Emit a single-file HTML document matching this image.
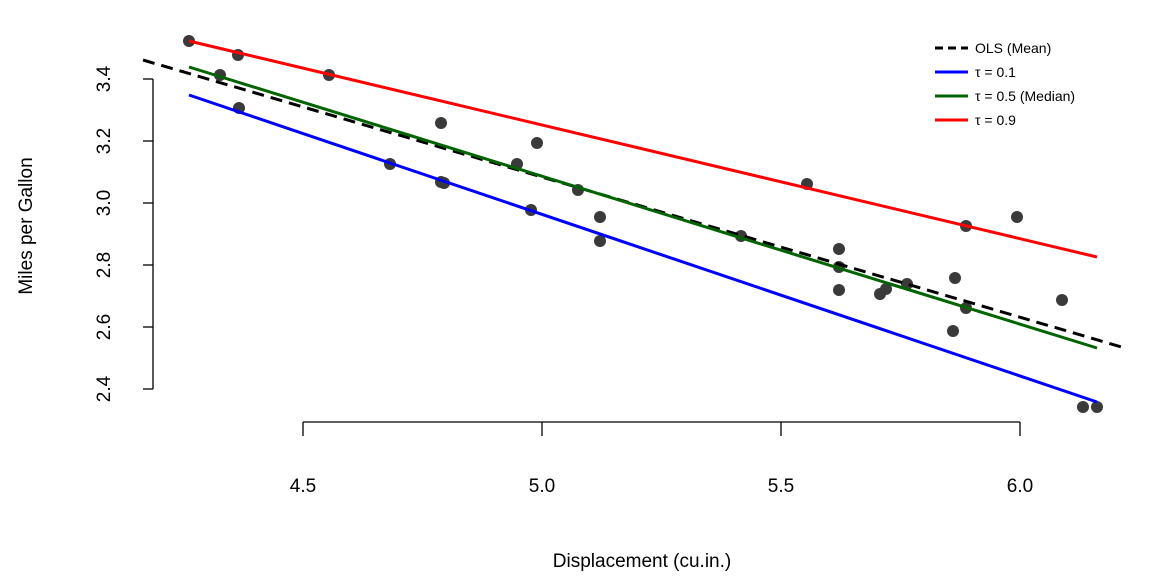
<!DOCTYPE html>
<html><head><meta charset="utf-8"><style>body{margin:0;background:#fff}svg{display:block}text{font-family:"Liberation Sans",Arial,sans-serif}</style></head><body>
<svg width="1152" height="576" viewBox="0 0 1152 576" xmlns="http://www.w3.org/2000/svg">
<g stroke="#000" stroke-width="1.3" fill="none">
<line x1="153" y1="79" x2="153" y2="389"/>
<line x1="143" y1="79" x2="153" y2="79"/><line x1="143" y1="141" x2="153" y2="141"/><line x1="143" y1="203" x2="153" y2="203"/><line x1="143" y1="265" x2="153" y2="265"/><line x1="143" y1="327" x2="153" y2="327"/><line x1="143" y1="389" x2="153" y2="389"/>
<line x1="303" y1="422" x2="1020" y2="422"/>
<line x1="303" y1="422" x2="303" y2="436"/><line x1="542" y1="422" x2="542" y2="436"/><line x1="781" y1="422" x2="781" y2="436"/><line x1="1020" y1="422" x2="1020" y2="436"/>
</g>
<g font-size="19" text-anchor="middle" fill="#000">
<text x="303" y="492">4.5</text><text x="542" y="492">5.0</text><text x="781" y="492">5.5</text><text x="1020" y="492">6.0</text>
<text transform="translate(110,79) rotate(-90)">3.4</text>
<text transform="translate(110,141) rotate(-90)">3.2</text>
<text transform="translate(110,203) rotate(-90)">3.0</text>
<text transform="translate(110,265) rotate(-90)">2.8</text>
<text transform="translate(110,327) rotate(-90)">2.6</text>
<text transform="translate(110,389) rotate(-90)">2.4</text>
<text x="642" y="567">Displacement (cu.in.)</text>
<text transform="translate(32,226) rotate(-90)">Miles per Gallon</text>
</g>
<g fill="#3a3a3a">
<circle cx="189" cy="41" r="6"/><circle cx="220" cy="75" r="6"/><circle cx="238" cy="55" r="6"/><circle cx="239" cy="108" r="6"/><circle cx="329" cy="75" r="6"/><circle cx="390" cy="164" r="6"/><circle cx="441" cy="182" r="6"/><circle cx="444" cy="183" r="6"/><circle cx="441" cy="123" r="6"/><circle cx="517" cy="164" r="6"/><circle cx="531" cy="210" r="6"/><circle cx="537" cy="143" r="6"/><circle cx="578" cy="190" r="6"/><circle cx="600" cy="217" r="6"/><circle cx="600" cy="241" r="6"/><circle cx="741" cy="236" r="6"/><circle cx="807" cy="184" r="6"/><circle cx="839" cy="249" r="6"/><circle cx="839" cy="267" r="6"/><circle cx="839" cy="290" r="6"/><circle cx="880" cy="294" r="6"/><circle cx="886" cy="289" r="6"/><circle cx="907" cy="284" r="6"/><circle cx="953" cy="331" r="6"/><circle cx="955" cy="278" r="6"/><circle cx="966" cy="226" r="6"/><circle cx="966" cy="308" r="6"/><circle cx="1017" cy="217" r="6"/><circle cx="1062" cy="300" r="6"/><circle cx="1083" cy="407" r="6"/><circle cx="1097" cy="407" r="6"/>
</g>
<g stroke-width="3" fill="none">
<line x1="143" y1="60" x2="1125" y2="348" stroke="#000" stroke-dasharray="12,7"/>
<line x1="189" y1="95" x2="1097" y2="402" stroke="#0000ff"/>
<line x1="189" y1="67" x2="1097" y2="348" stroke="#006400"/>
<line x1="189" y1="41" x2="1097" y2="257" stroke="#ff0000"/>
<line x1="935" y1="48" x2="968" y2="48" stroke="#000" stroke-dasharray="8,5"/>
<line x1="935" y1="72" x2="968" y2="72" stroke="#0000ff"/>
<line x1="935" y1="96" x2="968" y2="96" stroke="#006400"/>
<line x1="935" y1="120" x2="968" y2="120" stroke="#ff0000"/>
</g>
<g font-size="14" fill="#000">
<text x="975" y="53">OLS (Mean)</text>
<text x="975" y="77">τ = 0.1</text>
<text x="975" y="101">τ = 0.5 (Median)</text>
<text x="975" y="125">τ = 0.9</text>
</g>
</svg>
</body></html>
